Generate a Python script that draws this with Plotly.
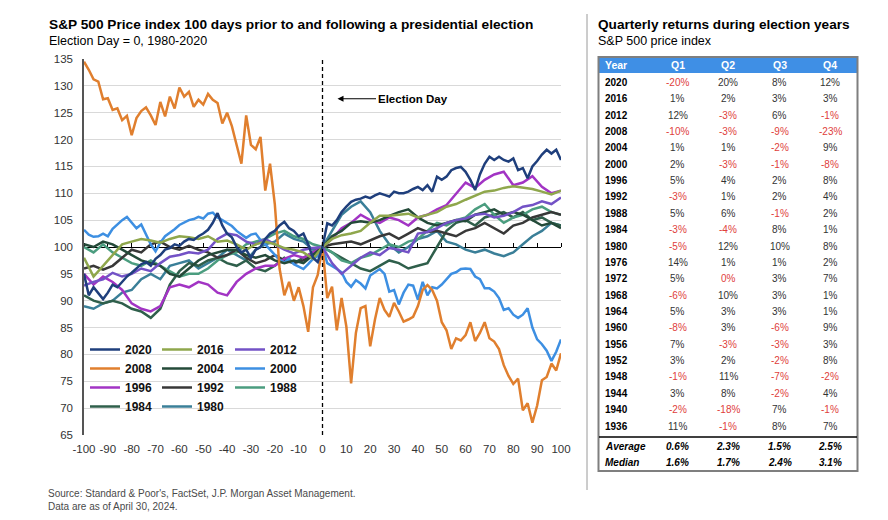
import plotly.graph_objects as go

# ---------------- data ----------------
days2 = list(range(-100, 101, 2))
days4 = list(range(-100, 101, 4))

s2008 = [134.5, 133.0, 131.2, 130.8, 127.5, 127.7, 125.5, 125.8, 123.6, 124.4,
         120.8, 124.0, 125.3, 126.0, 124.5, 122.7, 127.0, 124.3, 128.0, 125.8,
         129.7, 128.0, 128.9, 126.1, 127.4, 126.5, 128.5, 127.4, 126.8, 123.0,
         125.0, 122.5, 119.0, 115.5, 124.5, 119.0, 118.2, 120.5, 110.5, 115.5,
         108.0, 96.0, 91.0, 93.5, 90.0, 92.5, 89.0, 84.2, 92.5, 94.8,
         100.0,
         90.5, 92.6, 84.5, 90.5, 85.2, 74.6, 84.0, 88.6, 89.0, 81.5,
         86.5, 90.5, 88.3, 87.0, 89.6, 88.0, 86.1, 86.5, 87.0, 89.0,
         92.0, 92.9, 92.0, 90.0, 86.0, 84.5, 81.0, 83.0, 82.6, 83.6,
         86.0, 82.5, 84.0, 86.0, 83.0, 82.4, 81.0, 78.0, 76.0, 74.5,
         75.5, 69.6, 70.9, 67.3, 70.5, 75.2, 75.8, 78.3, 77.0, 80.2]

s2000 = [103.2, 102.3, 101.9, 102.0, 102.5, 102.0, 103.4, 104.2, 105.0, 105.6,
         104.5, 103.5, 104.2, 102.5, 100.5, 99.2, 100.8, 102.0, 102.6, 103.3,
         104.1, 104.5, 105.0, 105.2, 105.6, 105.3, 106.2, 106.4, 105.5, 105.0,
         104.5, 103.9, 103.0, 102.3, 101.7, 102.3, 102.5, 101.3, 100.5, 99.5,
         98.5, 97.6, 97.1, 97.8, 96.8, 96.3, 95.9, 96.8, 97.8, 98.3,
         100.0,
         97.0, 96.5, 95.9, 95.3, 93.5, 92.6, 93.8, 93.2, 92.3, 94.7,
         95.3, 95.9, 95.0, 91.7, 92.0, 89.3, 91.5, 93.0, 92.8, 90.2,
         93.5, 91.0, 92.5, 92.3, 93.0, 94.1, 95.0, 95.3, 95.9, 96.0,
         95.9, 94.5, 94.0, 92.3, 92.3, 91.7, 90.5, 88.3, 88.6, 87.4,
         86.8, 87.4, 88.6, 85.0, 82.8, 81.9, 80.7, 78.8, 80.5, 82.8]

s2020 = [95.0, 91.0, 92.5, 91.5, 90.3, 91.5, 93.0, 92.5, 93.5, 94.5,
         95.2, 96.0, 96.8, 97.2, 96.5, 97.8, 98.5, 99.5, 99.8, 100.5,
         100.2, 101.0, 101.5, 101.3, 102.0, 102.5, 103.2, 104.5, 106.3, 104.0,
         102.5, 101.8, 100.0, 99.0, 99.5, 98.0, 99.5, 100.0, 101.5, 102.5,
         103.0, 104.0, 104.7, 103.5, 103.0, 102.0, 102.5, 100.5, 98.0, 97.2,
         100.0,
         104.4, 104.0, 105.0, 106.5, 107.5, 108.4, 108.8, 109.0, 109.4, 109.1,
         109.6, 110.0, 109.7, 109.4, 110.3, 110.0, 110.0, 110.3, 110.8, 111.2,
         110.6, 111.5, 110.3, 113.1, 112.5, 113.1, 114.3, 114.7, 114.9, 114.0,
         112.5, 110.6, 113.5, 115.5, 116.8, 116.2, 116.8, 116.2, 115.9, 116.5,
         114.3, 114.7, 112.8, 115.0, 116.0, 117.2, 118.1, 117.4, 118.1, 116.2]

s2016 = [98.0, 94.5, 96.5, 98.5, 100.5, 101.0, 101.5, 101.2, 100.8, 101.5,
         102.0, 101.8, 101.5, 102.0, 101.0, 101.2, 100.5, 99.5, 100.5, 101.0,
         100.5, 99.8, 99.5, 99.0, 97.8, 100.0,
         101.5, 102.2, 102.5, 103.0, 104.5, 105.8, 105.8, 106.0, 106.2, 105.5,
         106.0, 106.5, 107.5, 108.0, 108.8, 109.5, 110.3, 110.5, 111.0, 111.3,
         111.0, 110.8, 110.3, 109.8, 110.5]

s2012 = [92.8, 93.5, 94.0, 95.2, 94.5, 95.0, 96.0, 95.5, 97.0, 98.2,
         98.5, 99.0, 98.8, 99.5, 101.5, 102.5, 102.2, 101.0, 100.5, 101.5,
         100.5, 99.5, 98.8, 99.5, 99.8, 100.0,
         97.0, 95.0, 96.5, 98.0, 99.0, 98.5, 99.8, 99.5, 99.0, 102.5,
         102.8, 103.5, 104.5, 105.0, 105.3, 106.0, 106.2, 105.5, 105.8, 106.5,
         107.5, 107.8, 108.5, 108.0, 109.2]

s1996 = [95.0, 93.0, 94.5, 93.5, 92.0, 89.5, 88.5, 88.0, 89.0, 92.5,
         93.0, 92.5, 93.5, 93.0, 91.5, 91.0, 93.5, 95.0, 96.0, 96.5,
         96.5, 97.8, 98.5, 98.0, 99.0, 100.0,
         101.5, 103.5, 104.5, 106.0, 105.0, 104.5, 105.5, 105.0, 104.0, 105.5,
         106.0, 107.0, 107.8, 110.0, 112.0, 111.0, 112.5, 113.5, 114.0, 111.5,
         112.0, 113.2, 111.2, 110.0, 110.5]

s1992 = [96.0, 96.5, 95.8, 96.5, 98.0, 99.5, 99.0, 100.5, 101.0, 100.0,
         99.5, 100.2, 99.5, 99.0, 98.0, 98.5, 99.5, 98.0, 97.0, 97.5,
         98.5, 97.5, 97.0, 97.5, 98.5, 100.0,
         100.5, 100.8, 101.0, 100.5, 101.2, 102.0, 102.5, 101.5, 102.5, 103.5,
         102.8, 103.0, 102.5, 102.0, 103.0, 103.5, 104.5, 103.5, 102.5, 104.0,
         104.5, 105.5, 106.0, 106.5, 106.0]

s1988 = [100.0, 99.0, 100.5, 99.0, 98.0, 97.0, 96.5, 97.5, 96.5, 95.5,
         94.5, 95.0, 95.0, 96.0, 97.5, 98.5, 99.0, 100.5, 101.0, 101.5,
         102.5, 103.0, 102.0, 101.5, 100.5, 100.0,
         99.0, 97.5, 97.0, 98.0, 98.5, 99.5, 100.5, 100.0, 101.0, 101.5,
         103.0, 104.5, 104.0, 105.0, 105.5, 107.0, 108.0, 106.0, 104.5, 105.5,
         106.0, 107.0, 107.5, 106.5, 106.0]

s1984 = [91.0, 90.0, 89.5, 90.0, 89.5, 88.5, 88.0, 86.8, 88.5, 93.0,
         95.5, 97.0, 96.5, 97.5, 98.0, 97.0, 96.5, 97.5, 96.0, 95.5,
         96.5, 98.0, 97.0, 98.0, 99.0, 100.0,
         99.0, 98.0, 97.0, 96.0, 95.5, 96.5, 97.5, 97.0, 96.0, 96.5,
         97.0, 100.0, 103.0, 104.5, 105.0, 104.0, 105.5, 106.0, 106.5, 105.5,
         106.5, 105.0, 105.5, 104.5, 104.0]

s2004 = [100.5, 100.0, 101.0, 100.5, 99.5, 98.5, 97.5, 97.0, 96.5, 95.0,
         94.5, 96.0, 97.5, 98.5, 99.0, 99.5, 99.5, 98.5, 98.0, 98.5,
         97.5, 97.0, 97.5, 97.0, 98.5, 100.0,
         102.0, 103.0, 104.5, 104.8, 104.5, 105.0, 105.8, 106.5, 107.0, 105.5,
         104.5, 104.0, 104.5, 105.0, 104.8, 106.0, 106.5, 107.0, 106.0, 106.5,
         106.0, 105.0, 104.0, 104.5, 103.5]

s1980 = [89.0, 88.5, 89.5, 90.0, 91.5, 92.0, 94.0, 95.0, 94.0, 96.5,
         97.0, 97.5, 96.0, 97.0, 98.0, 99.5, 98.5, 97.5, 99.5, 100.5,
         101.0, 102.5, 101.5, 101.0, 99.5, 100.0,
         103.0, 106.0, 107.5, 108.5, 106.5, 103.0, 100.5, 99.0, 100.0, 101.5,
         102.0, 103.0, 101.0, 100.5, 99.5, 99.0, 99.5, 98.8, 98.3, 99.0,
         100.5, 102.0, 103.0, 104.5, 104.0]

x_ticks = list(range(-100, 101, 10))
x_tick_text = [str(v) for v in x_ticks]   # plain hyphen minus, as in the source

# table data
years = [2020, 2016, 2012, 2008, 2004, 2000, 1996, 1992, 1988, 1984, 1980,
         1976, 1972, 1968, 1964, 1960, 1956, 1952, 1948, 1944, 1940, 1936]
q1 = [-20, 1, 12, -10, 1, 2, 5, -3, 5, -3, -5, 14, 5, -6, 5, -8, 7, 3, -1, 3, -2, 11]
q2 = [20, 2, -3, -3, 1, -3, 4, 1, 6, -4, 12, 1, -0.2, 10, 3, 3, -3, 2, 11, 8, -18, -1]
q3 = [8, 3, 6, -9, -2, -1, 2, 2, -1, 8, 10, 1, 3, 3, 3, -6, -3, -2, -7, -2, 7, 8]
q4 = [12, 3, -1, -23, 9, -8, 8, 4, 2, 1, 8, 2, 7, 1, 1, 9, 3, 8, -2, 4, -1, 7]
avg_row = [0.6, 2.3, 1.5, 2.5]
med_row = [1.6, 1.7, 2.4, 3.1]
q_labels = ["Q1", "Q2", "Q3", "Q4"]

# ---------------- styling ----------------
FONT = "Liberation Sans, Arial, sans-serif"
VW, VH = 888, 520          # browser window
OFF = 8                    # default page margin of the html body
W, H = VW - OFF, VH - OFF  # figure size so it ends at the window edge
L, R, T, B = 84, 561, 59, 435  # plot area in window px


def PX(x):
    return (x - L) / (R - L)


def PY(y):
    return (B - y) / (B - T)


series = [
    ("1980", days4, s1980, "#3a7f98", "legend2"),
    ("1984", days4, s1984, "#2f5f4b", "legend"),
    ("1988", days4, s1988, "#4b9d7f", "legend3"),
    ("1992", days4, s1992, "#383838", "legend2"),
    ("1996", days4, s1996, "#a234c4", "legend"),
    ("2000", days2, s2000, "#3d8fe2", "legend3"),
    ("2004", days4, s2004, "#244a39", "legend2"),
    ("2008", days2, s2008, "#e07f2e", "legend"),
    ("2012", days4, s2012, "#7352c6", "legend3"),
    ("2016", days4, s2016, "#8fa74c", "legend2"),
    ("2020", days2, s2020, "#1f3f7c", "legend"),
]

fig = go.Figure()
for name, xs, ys, col, lg in series:
    fig.add_trace(go.Scatter(x=xs, y=ys, mode="lines", name=name,
                             line=dict(color=col, width=2.5), legend=lg,
                             hoverinfo="skip"))

# helper trace for the axis drawn at 100
fig.add_trace(go.Scatter(x=[None], y=[None], xaxis="x2", showlegend=False,
                         hoverinfo="skip"))

leg_common = dict(bgcolor="rgba(0,0,0,0)", traceorder="reversed",
                  font=dict(family=FONT, size=12, color="#111", weight="bold"),
                  xanchor="left", yanchor="top", itemwidth=30,
                  tracegroupgap=0)

shapes = [
    dict(type="line", xref="x", yref="paper", x0=0, x1=0, y0=0, y1=1,
         line=dict(color="#000", width=1.3, dash="4px,3px")),
    dict(type="line", xref="paper", yref="paper", x0=PX(587), x1=PX(587),
         y0=PY(14), y1=PY(490), line=dict(color="#9a9a9a", width=1)),
    dict(type="rect", xref="paper", yref="paper", x0=PX(599), x1=PX(857),
         y0=PY(57), y1=PY(73), fillcolor="#3f8fe5", line=dict(width=0)),
    dict(type="rect", xref="paper", yref="paper", x0=PX(598.5), x1=PX(857.5),
         y0=PY(57), y1=PY(471), line=dict(color="#7f7f7f", width=2)),
    dict(type="line", xref="paper", yref="paper", x0=PX(599), x1=PX(857),
         y0=PY(437), y1=PY(437), line=dict(color="#000", width=1.5)),
]

ann = []
ann.append(dict(x=PX(47), y=PY(25), text="<b>S&P 500 Price index 100 days prior to and following a presidential election</b>",
                font=dict(size=13.7, color="#000")))
ann.append(dict(x=PX(47), y=PY(41), text="Election Day = 0, 1980-2020",
                font=dict(size=12.5, color="#000")))
ann.append(dict(x=PX(596), y=PY(25), text="<b>Quarterly returns during election years</b>",
                font=dict(size=13.6, color="#000")))
ann.append(dict(x=PX(596), y=PY(41), text="S&P 500 price index",
                font=dict(size=12.5, color="#000")))
ann.append(dict(x=PX(46), y=PY(493), text="Source: Standard & Poor's, FactSet, J.P. Morgan Asset Management.",
                font=dict(size=10, color="#4a4a4a")))
ann.append(dict(x=PX(46), y=PY(506), text="Data are as of April 30, 2024.",
                font=dict(size=10, color="#4a4a4a")))
for a in ann:
    a.update(xref="paper", yref="paper", xanchor="left", yanchor="middle",
             showarrow=False)

ann.append(dict(x=6.3, y=127.6, xref="x", yref="y", text="<b>Election Day</b>",
                showarrow=True, arrowhead=2, arrowsize=1, arrowwidth=1.2,
                arrowcolor="#000", ax=75, ay=0,
                font=dict(size=11.5, color="#000")))

col_x = [677.5, 728, 779.5, 830]
ann.append(dict(x=PX(602.5), y=PY(65), text="<b>Year</b>", xanchor="left"))
for qx, ql in zip(col_x, q_labels):
    ann.append(dict(x=PX(qx), y=PY(65), text="<b>" + ql + "</b>", xanchor="center"))
for a in ann[-5:]:
    a.update(xref="paper", yref="paper", yanchor="middle", showarrow=False,
             font=dict(size=10.5, color="#fff"))

row_h = 16.37
for i, yr in enumerate(years):
    yy = 82.3 + i * row_h
    ann.append(dict(x=PX(602.5), y=PY(yy), text="<b>%d</b>" % yr, xanchor="left",
                    xref="paper", yref="paper", yanchor="middle", showarrow=False,
                    font=dict(size=10, color="#000")))
    for qx, vals in zip(col_x, [q1, q2, q3, q4]):
        v = vals[i]
        col = "#e0403c" if v < 0 else "#333333"
        ann.append(dict(x=PX(qx), y=PY(yy), text="%d%%" % round(v), xanchor="center",
                        xref="paper", yref="paper", yanchor="middle", showarrow=False,
                        font=dict(size=10, color=col)))

for label, vals, yy in [("Average", avg_row, 446), ("Median", med_row, 462)]:
    ann.append(dict(x=PX(602.5), y=PY(yy), text="<b><i>%s</i></b>" % label, xanchor="left",
                    xref="paper", yref="paper", yanchor="middle", showarrow=False,
                    font=dict(size=10, color="#000")))
    for qx, v in zip(col_x, vals):
        ann.append(dict(x=PX(qx), y=PY(yy), text="<b><i>%.1f%%</i></b>" % v, xanchor="center",
                        xref="paper", yref="paper", yanchor="middle", showarrow=False,
                        font=dict(size=10, color="#000")))

fig.update_layout(
    width=W, height=H,
    margin=dict(l=L - OFF, r=VW - R, t=T - OFF, b=VH - B, pad=0),
    paper_bgcolor="#fff", plot_bgcolor="#fff",
    font=dict(family=FONT, color="#333"),
    showlegend=True,
    xaxis=dict(range=[-100, 100], tickvals=x_ticks, ticktext=x_tick_text,
               showgrid=False, zeroline=False, showline=False, ticks="",
               tickangle=0, ticklabelstandoff=5,
               tickfont=dict(size=11.5, color="#333")),
    xaxis2=dict(overlaying="x", anchor="free", position=0.5, side="top",
                range=[-100, 100], tickvals=x_ticks, showline=True, linecolor="#000",
                linewidth=1, ticks="outside", ticklen=4, tickcolor="#000",
                showticklabels=False, showgrid=False, zeroline=False,
                layer="below traces"),
    yaxis=dict(range=[65, 135], dtick=5, showgrid=True, gridcolor="#d9d9d9",
               gridwidth=1, zeroline=False, showline=True, linecolor="#555",
               linewidth=1.5, ticks="", ticklabelstandoff=7,
               tickfont=dict(size=11.5, color="#333")),
    legend=dict(x=PX(85), y=PY(335), **leg_common),
    legend2=dict(x=PX(157), y=PY(335), **leg_common),
    legend3=dict(x=PX(230), y=PY(335), **leg_common),
    shapes=shapes,
    annotations=ann,
)

fig.write_html("out.html")
